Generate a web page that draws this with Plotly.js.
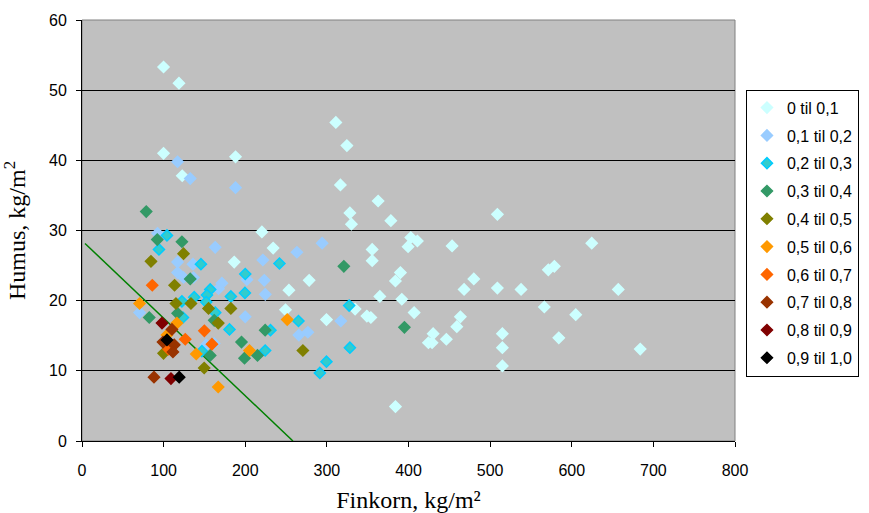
<!DOCTYPE html>
<html>
<head>
<meta charset="utf-8">
<script src="https://cdn.plot.ly/plotly-3.0.1.min.js"></script>
<style>html,body{margin:0;padding:0;background:#fff;}#chart{width:869px;height:513px;}</style>
</head>
<body>
<div id="chart"></div>
<script>
// Series names (legend)
const seriesNames = ["0 til 0,1","0,1 til 0,2","0,2 til 0,3","0,3 til 0,4","0,4 til 0,5","0,5 til 0,6","0,6 til 0,7","0,7 til 0,8","0,8 til 0,9","0,9 til 1,0"];

// Finkorn (x) and Humus (y) values per class
const s0x = [99.9,118.8,99.9,122.8,188.1,311.0,324.5,316.6,362.8,328.2,378.4,330.1,220.4,234.2,355.5,402.8,410.9,399.5,453.4,355.5,390.1,384.0,278.3,253.5,364.9,391.8,334.6,249.3,299.5,349.0,353.9,406.9,430.2,424.4,428.9,446.4,384.0,508.9,624.5,480.0,468.1,508.9,537.9,571.3,578.7,657.0,566.4,604.9,463.6,459.2,515.0,515.0,584.1,683.9,515.0,186.5];
const s0y = [53.3,51.0,41.0,37.8,40.5,45.4,42.1,36.5,34.2,32.5,31.4,30.9,29.8,27.5,27.3,29.0,28.5,27.7,27.8,25.7,24.0,22.8,22.9,21.5,20.6,20.2,18.8,18.7,17.3,17.8,17.6,18.3,15.3,14.0,14.0,14.5,4.9,32.3,28.2,23.1,21.6,21.8,21.6,24.4,24.9,21.6,19.1,18.0,17.7,16.3,15.3,13.3,14.7,13.1,10.7,25.5];

const s1x = [117.1,132.6,188.1,294.2,263.3,221.6,223.3,224.5,317.1,265.7,276.7,92.6,163.2,117.1,135.9,117.1,124.4,136.6,202.0,171.4,167.3,200.0,70.5,152.2,162.0];
const s1y = [39.8,37.4,36.1,28.2,26.9,25.8,22.9,20.9,17.1,15.1,15.5,29.6,27.6,25.5,25.2,24.0,23.3,23.3,23.0,22.5,21.7,17.7,18.3,13.7,13.9];

const s2x = [104.1,94.3,145.7,200.0,241.9,157.1,153.1,137.5,122.4,152.2,182.4,199.6,163.2,123.7,180.7,146.9,327.3,265.2,230.9,224.4,328.2,299.5,291.4];
const s2y = [29.3,27.3,25.2,23.8,25.3,21.6,20.8,20.5,19.9,19.8,20.6,21.1,18.3,17.6,15.9,12.8,19.3,17.1,15.8,12.9,13.3,11.3,9.7];

const s3x = [78.7,92.2,122.4,132.6,320.8,395.0,224.4,215.0,117.1,82.4,162.0,157.1,195.4,199.1];
const s3y = [32.7,28.7,28.4,23.1,24.9,16.2,15.8,12.2,18.2,17.6,17.2,12.2,14.1,11.8];

const s4x = [124.4,84.5,113.4,115.1,133.5,155.0,182.4,166.9,99.9,149.7,270.6];
const s4y = [26.7,25.6,22.2,19.6,19.6,18.9,18.9,16.8,12.5,10.4,12.9];

const s5x = [70.5,116.3,140.0,205.2,166.9,251.4,104.1];
const s5y = [19.6,16.8,12.4,12.9,7.7,17.3,15.1];

const s6x = [86.1,149.9,126.5,106.0,159.2];
const s6y = [22.2,15.7,14.5,13.1,13.8];

const s7x = [110.2,99.2,113.0,111.4,88.2];
const s7y = [15.9,14.1,13.7,12.7,9.1];

const s8x = [98.0,109.0];
const s8y = [16.8,8.9];

const s9x = [104.1,119.1];
const s9y = [14.4,9.1];

// Green reference line end points
const lineX = [3.7,258.4];
const lineY = [28.15,0];

const xTicks = [0,100,200,300,400,500,600,700,800];
const yTicks = [0,10,20,30,40,50,60];

const fills = ["#CCFFFF","#99CCFF","#33CCCC","#339966","#808000","#FF9900","#FF6600","#993300","#800000","#000000"];
const borders = ["#CCFFFF","#99CCFF","#00CCFF","#339966","#808000","#FF9900","#FF6600","#993300","#800000","#000000"];

const xs = [s0x,s1x,s2x,s3x,s4x,s5x,s6x,s7x,s8x,s9x];
const ys = [s0y,s1y,s2y,s3y,s4y,s5y,s6y,s7y,s8y,s9y];

const traces = [];
traces.push({x: lineX, y: lineY, mode: 'lines', line: {color: '#008000', width: 1.5}, showlegend: false, hoverinfo: 'skip'});
for (let i = 0; i < seriesNames.length; i++) {
  traces.push({
    x: xs[i], y: ys[i], mode: 'markers', name: seriesNames[i], legendgroup: 'g' + i,
    type: 'scatter', cliponaxis: false,
    marker: {symbol: 'diamond', size: 8.5, color: fills[i], line: {color: borders[i], width: 1.5}}
  });
}

const layout = {
  width: 869, height: 513,
  margin: {l: 82, r: 134, t: 20, b: 72, autoexpand: false},
  paper_bgcolor: '#ffffff',
  plot_bgcolor: '#C0C0C0',
  font: {family: '"Liberation Sans", Arial, sans-serif', size: 16, color: '#000'},
  showlegend: true,
  legend: {
    x: 1.0168, y: 0.8345, xanchor: 'left', yanchor: 'top',
    bgcolor: '#ffffff', bordercolor: '#000000', borderwidth: 1,
    font: {family: '"Liberation Sans", Arial, sans-serif', size: 16, color: '#000'},
    tracegroupgap: 4, itemsizing: 'trace'
  },
  xaxis: {
    range: [0, 800], tickvals: xTicks, ticktext: xTicks.map(String),
    showgrid: false, zeroline: false, showline: true, linecolor: '#000', linewidth: 1,
    ticks: 'outside', ticklen: 5, tickcolor: '#000', ticklabelstandoff: 10,
    title: {text: 'Finkorn, kg/m²', font: {family: '"Liberation Serif", "Times New Roman", serif', size: 24, color: '#000'}, standoff: 12}
  },
  yaxis: {
    range: [0, 60], tickvals: yTicks, ticktext: yTicks.map(String),
    showgrid: true, gridcolor: '#000', gridwidth: 1, zeroline: false,
    showline: true, linecolor: '#000', linewidth: 1,
    ticks: 'outside', ticklen: 5, tickcolor: '#000', ticklabelstandoff: 6,
    title: {text: 'Humus, kg/m<sup>2</sup>', font: {family: '"Liberation Serif", "Times New Roman", serif', size: 24, color: '#000'}, standoff: 16}
  },
  shapes: [{type: 'rect', xref: 'paper', yref: 'paper', x0: 0, x1: 1, y0: 0, y1: 1, line: {color: '#808080', width: 1}, layer: 'below'}]
};

Plotly.newPlot('chart', traces, layout, {displayModeBar: false, staticPlot: true});
</script>
</body>
</html>
